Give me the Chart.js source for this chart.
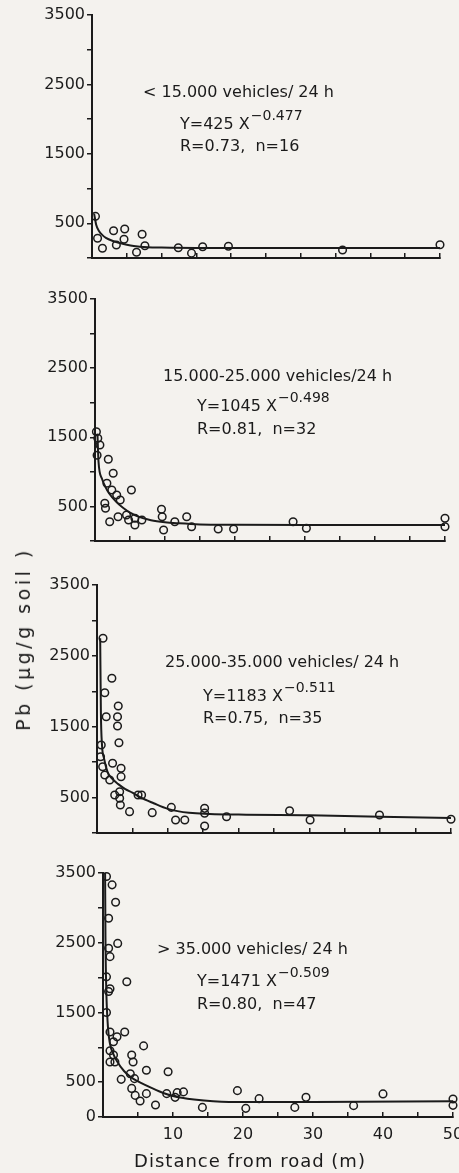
<!DOCTYPE html>
<html><head><meta charset="utf-8">
<script src="https://cdn.jsdelivr.net/npm/chart.js@4.4.1/dist/chart.umd.min.js"></script>
<style>
html,body{margin:0;padding:0;background:#f4f2ee;}
body{width:459px;height:1173px;position:relative;overflow:hidden;font-family:"DejaVu Sans",sans-serif;}
canvas{position:absolute;left:0;}
.ytitle{position:absolute;left:23px;top:639px;transform:translate(-50%,-50%) rotate(-90deg);font-size:19px;letter-spacing:3.5px;white-space:nowrap;color:#1b1b1b;}
.xtitle{position:absolute;left:250px;top:1160px;transform:translate(-50%,-50%);font-size:18px;letter-spacing:1px;white-space:nowrap;color:#1b1b1b;}
</style></head>
<body>
<canvas id="c1" width="459" height="285" style="top:0px"></canvas>
<canvas id="c2" width="459" height="285" style="top:285px"></canvas>
<canvas id="c3" width="459" height="285" style="top:570px"></canvas>
<canvas id="c4" width="459" height="318" style="top:855px"></canvas>
<div class="ytitle">Pb (µg/g soil )</div>
<div class="xtitle">Distance from road (m)</div>
<script>
// ---------- data ----------
const yTickLabels = [500, 1500, 2500, 3500];
const xTickLabels = [10, 20, 30, 40, 50];

// Panel 1: < 15.000 vehicles/24 h
const p1X = [0.5, 0.8, 1.5, 3.1, 3.5, 4.6, 4.7, 6.4, 7.2, 7.6, 12.4, 14.3, 15.9, 19.6, 36, 50];
const p1Y = [600, 284, 140, 393, 187, 270, 418, 82, 341, 177, 148, 70, 163, 170, 115, 190];
const p1CurveX = [0.3, 0.6, 1, 1.5, 2, 3, 4, 5, 6, 8, 10, 15, 20, 30, 40, 50];
const p1CurveY = [640, 480, 390, 330, 290, 245, 215, 190, 172, 155, 150, 145, 145, 145, 145, 145];
const p1Text = ["< 15.000 vehicles/ 24 h", "Y=425 X", "\u22120.477", "R=0.73,  n=16"];

// Panel 2: 15.000-25.000 vehicles/24 h
const p2X = [0.2, 0.4, 0.7, 1.9, 2.6, 1.7, 2.4, 3.1, 3.6, 5.2, 1.4, 1.5, 2.1, 3.3, 4.5, 4.8, 5.7, 5.7, 6.7, 9.5, 9.6, 9.8, 11.4, 13.1, 13.8, 17.6, 19.8, 28.3, 30.2, 50, 50, 0.3];
const p2Y = [1580, 1485, 1388, 1182, 979, 835, 738, 665, 593, 738, 545, 473, 279, 351, 376, 304, 328, 231, 304, 459, 351, 159, 279, 351, 207, 174, 174, 279, 184, 328, 207, 1240];
const p2CurveX = [0.35, 0.5, 1, 1.5, 2, 3, 4, 5, 6, 8, 10, 12, 15, 20, 30, 40, 50];
const p2CurveY = [1550, 1150, 900, 780, 690, 570, 480, 410, 360, 300, 270, 255, 240, 235, 230, 230, 230];
const p2Text = ["15.000-25.000 vehicles/24 h", "Y=1045 X", "\u22120.498", "R=0.81,  n=32"];

// Panel 3: 25.000-35.000 vehicles/24 h
const p3X = [0.85, 2.1, 1.1, 3.0, 1.3, 2.9, 2.9, 3.1, 0.6, 0.5, 2.2, 3.4, 0.8, 1.1, 1.8, 3.4, 2.5, 3.2, 3.2, 3.3, 4.6, 5.8, 6.3, 7.8, 10.5, 11.1, 12.4, 15.2, 15.2, 15.2, 27.2, 30.1, 39.9, 50, 18.3];
const p3Y = [2748, 2183, 1980, 1792, 1641, 1641, 1510, 1274, 1242, 1077, 984, 913, 936, 819, 748, 795, 536, 583, 490, 395, 301, 536, 536, 287, 362, 183, 183, 348, 280, 99, 315, 183, 254, 193, 230];
const p3CurveX = [0.45, 0.55, 0.7, 1, 1.5, 2, 3, 4, 5, 6, 8, 10, 13, 20, 30, 40, 50];
const p3CurveY = [2750, 1700, 1250, 1050, 860, 780, 690, 620, 570, 510, 420, 340, 285, 260, 250, 230, 210];
const p3Text = ["25.000-35.000 vehicles/ 24 h", "Y=1183 X", "\u22120.511", "R=0.75,  n=35"];

// Panel 4: > 35.000 vehicles/24 h
const p4X = [1.3, 1.8, 0.8, 2.1, 0.8, 1.0, 3.4, 0.8, 0.5, 1.0, 1.0, 3.1, 1.5, 5.8, 1.5, 1.0, 1.7, 4.1, 4.3, 6.2, 2.6, 4.5, 9.3, 4.1, 4.6, 5.3, 6.2, 7.5, 9.1, 10.3, 11.5, 14.2, 19.2, 20.4, 22.3, 27.4, 29, 35.8, 40, 50, 50, 1.0, 2.0, 0.5, 3.9, 10.6, 0.5];
const p4Y = [3330, 3080, 2850, 2490, 2420, 2300, 1940, 1800, 2010, 1840, 1220, 1220, 1080, 1020, 890, 790, 790, 890, 790, 670, 540, 550, 650, 410, 310, 230, 335, 173, 335, 282, 360, 138, 378, 124, 263, 138, 282, 163, 331, 259, 167, 950, 1150, 3450, 620, 350, 1500];
const p4CurveX = [0.3, 0.35, 0.45, 0.7, 1, 1.5, 2, 3, 4, 5, 6, 8, 10, 13, 18, 30, 50];
const p4CurveY = [3500, 2600, 1900, 1300, 1050, 900, 800, 660, 570, 510, 460, 370, 300, 250, 215, 215, 225];
const p4Text = ["> 35.000 vehicles/ 24 h", "Y=1471 X", "\u22120.509", "R=0.80,  n=47"];

// ---------- drawing ----------
const INK = '#1b1b1b';
const FONT = '"DejaVu Sans", sans-serif';

const annotPlugin = {
  id: 'annot',
  afterDraw(chart, args, o) {
    const ctx = chart.ctx;
    ctx.save();
    ctx.fillStyle = INK;
    ctx.textAlign = 'left';
    ctx.textBaseline = 'middle';
    ctx.font = '16px ' + FONT;
    ctx.fillText(o.text[0], o.x1, o.y1);
    ctx.fillText(o.text[1], o.x2, o.y2);
    const w = ctx.measureText(o.text[1]).width;
    ctx.fillText(o.text[3], o.x2, o.y3);
    ctx.font = '14px ' + FONT;
    ctx.fillText(o.text[2], o.x2 + w + 1, o.y2 - 9);
    ctx.restore();
  }
};

function pts(xs, ys) { return xs.map((x, i) => ({x: x, y: ys[i]})); }

function makeChart(id, xs, ys, cx, cy, text, g, bottom) {
  const yW = 60;
  new Chart(document.getElementById(id), {
    type: 'scatter',
    data: {
      datasets: [
        { data: pts(cx, cy), showLine: true, borderColor: INK, borderWidth: 2,
          pointRadius: 0, cubicInterpolationMode: 'monotone', fill: false, clip: false, order: 2 },
        { data: pts(xs, ys), showLine: false, pointStyle: 'circle', pointRadius: 3.8,
          borderColor: INK, borderWidth: 1.5, backgroundColor: 'rgba(0,0,0,0)', clip: false, order: 1 }
      ]
    },
    options: {
      responsive: false, animation: false, devicePixelRatio: 1,
      layout: { padding: { left: g.left - yW, right: 459 - g.right, top: g.padTop, bottom: g.padBottom } },
      plugins: { legend: { display: false }, tooltip: { enabled: false },
        annot: { text: text, x1: g.x1, y1: g.y1, x2: g.x2, y2: g.y2, y3: g.y3 } },
      scales: {
        x: {
          type: 'linear', min: 0, max: 50,
          border: { display: true, color: INK, width: 2 },
          grid: { drawOnChartArea: false, drawTicks: true, tickLength: -5, color: INK, lineWidth: 1.5 },
          ticks: { stepSize: 5, autoSkip: false, maxRotation: 0, padding: 13, color: INK,
            font: { family: FONT, size: 16 },
            callback: (v) => (bottom && xTickLabels.includes(v)) ? String(v) : '' },
          afterFit: (s) => { s.height = g.xH; s.paddingLeft = 0; s.paddingRight = 0; }
        },
        y: {
          type: 'linear', min: 0, max: 3500,
          border: { display: true, color: INK, width: 2 },
          grid: { drawOnChartArea: false, drawTicks: true, tickLength: 5, color: INK, lineWidth: 1.5 },
          ticks: { stepSize: 500, autoSkip: false, padding: 2, color: INK,
            font: { family: FONT, size: 16 },
            callback: (v) => yTickLabels.includes(v) ? String(v) : ((bottom && v === 0) ? '0' : '') },
          afterFit: (s) => { s.width = yW; s.paddingTop = 0; s.paddingBottom = 0; }
        }
      }
    },
    plugins: [annotPlugin]
  });
}

makeChart('c1', p1X, p1Y, p1CurveX, p1CurveY, p1Text,
  { left: 92, right: 440, padTop: 15, padBottom: 7, xH: 20, x1: 143, y1: 93, x2: 180, y2: 125, y3: 147 }, false);
makeChart('c2', p2X, p2Y, p2CurveX, p2CurveY, p2Text,
  { left: 95, right: 445, padTop: 14, padBottom: 9, xH: 20, x1: 163, y1: 92, x2: 197, y2: 122, y3: 145 }, false);
makeChart('c3', p3X, p3Y, p3CurveX, p3CurveY, p3Text,
  { left: 97, right: 451, padTop: 15, padBottom: 2, xH: 20, x1: 165, y1: 93, x2: 203, y2: 127, y3: 149 }, false);
makeChart('c4', p4X, p4Y, p4CurveX, p4CurveY, p4Text,
  { left: 103, right: 453, padTop: 18, padBottom: 26, xH: 30, x1: 157, y1: 95, x2: 197, y2: 127, y3: 150 }, true);
</script>
</body></html>
